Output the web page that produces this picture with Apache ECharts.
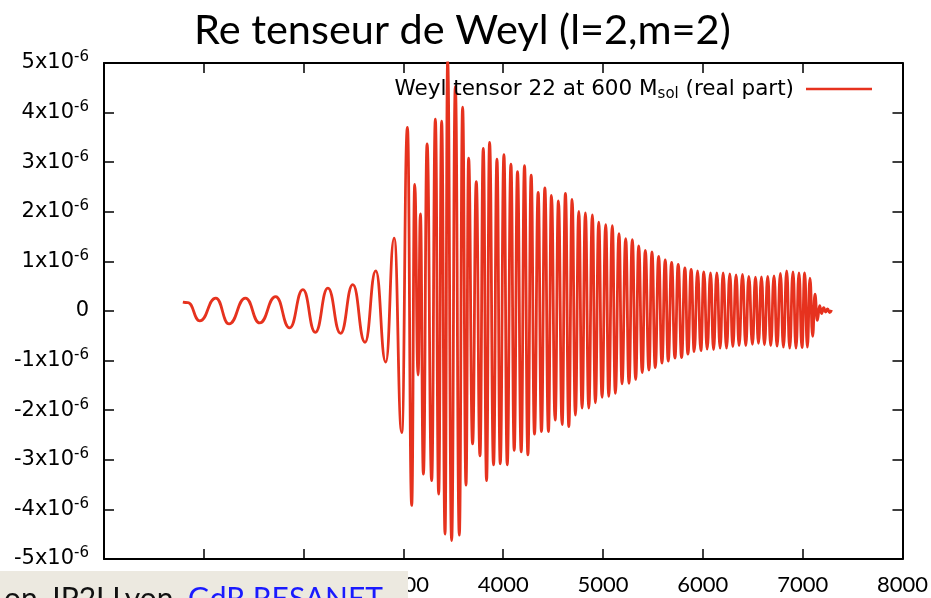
<!DOCTYPE html>
<html><head><meta charset="utf-8">
<script src="https://cdn.jsdelivr.net/npm/echarts@6/dist/echarts.min.js"></script>
<style>html,body{margin:0;padding:0;background:#fff;}#c{width:931px;height:598px;}</style>
</head><body><div id="c"></div>
<script>
const titleText = 'Re tenseur de Weyl (l=2,m=2)';
const seriesName = 'Weyl tensor 22 at 600 Msol (real part)';
const xTickLabels = ['0','1000','2000','3000','4000','5000','6000','7000','8000'];
const yTickMantissas = [-5,-4,-3,-2,-1,0,1,2,3,4,5];
const yUnit = 1e-6;
const footerText = 'on, IP2I Lyon, ';
const footerLink = 'GdR RESANET';

// time (x) of the start, extrema and end of the waveform
const timeValues = [790,840,960,1120,1253,1417,1560,1720,1860,1993,2117,2243,2370,2493,2615,2723,2823,2907,2983,3040,3083,3113,3147,3170,3200,3237,3283,3320,3353,3383,3417,3443,3483,3520,3560,3593,3627,3653,3693,3730,3767,3800,3833,3863,3903,3937,3970,4007,4040,4077,4110,4143,4180,4213,4247,4280,4313,4350,4383,4417,4453,4483,4520,4553,4590,4623,4657,4690,4723,4757,4790,4823,4857,4893,4923,4957,4990,5027,5057,5093,5123,5160,5190,5227,5260,5293,5327,5357,5393,5423,5460,5490,5523,5557,5590,5623,5653,5687,5720,5753,5787,5820,5850,5883,5913,5947,5980,6010,6043,6077,6107,6140,6173,6203,6237,6270,6300,6333,6363,6397,6430,6460,6497,6527,6557,6587,6617,6650,6680,6713,6743,6777,6807,6840,6870,6903,6933,6963,6993,7020,7047,7073,7100,7123,7147,7170,7190,7210,7230,7250,7270,7290];
// real part of Weyl tensor, in units of 1e-6
const weylRe = [0.18,0.17,-0.20,0.26,-0.26,0.26,-0.24,0.29,-0.34,0.43,-0.43,0.46,-0.45,0.53,-0.63,0.81,-1.03,1.47,-2.45,3.70,-3.92,2.55,-1.29,1.96,-3.29,3.37,-3.42,3.87,-3.69,3.83,-4.50,5.05,-4.63,4.53,-4.52,4.11,-3.51,3.08,-2.68,2.61,-2.92,3.28,-3.42,3.40,-3.10,3.06,-3.08,3.15,-3.10,2.96,-2.81,2.81,-2.84,2.93,-2.90,2.74,-2.48,2.39,-2.43,2.48,-2.43,2.33,-2.20,2.22,-2.29,2.37,-2.33,2.25,-2.10,2.01,-1.96,1.98,-1.96,1.94,-1.85,1.79,-1.74,1.74,-1.72,1.72,-1.66,1.56,-1.47,1.46,-1.46,1.44,-1.38,1.31,-1.24,1.22,-1.19,1.19,-1.14,1.10,-1.05,1.03,-1.01,0.98,-0.95,0.94,-0.94,0.87,-0.87,0.84,-0.82,0.81,-0.80,0.79,-0.77,0.77,-0.78,0.77,-0.75,0.77,-0.75,0.75,-0.72,0.73,-0.70,0.74,-0.70,0.70,-0.67,0.68,-0.65,0.69,-0.68,0.70,-0.70,0.71,-0.71,0.76,-0.73,0.81,-0.75,0.79,-0.75,0.77,-0.74,0.77,-0.73,0.66,-0.51,0.34,-0.19,0.11,-0.05,0.07,-0.02,0.04,-0.03,0.02];

function fitFont(text, family, target) {
  const ctx = document.createElement('canvas').getContext('2d');
  ctx.font = '100px ' + family;
  return 100 * target / ctx.measureText(text).width;
}
const titleFont = 'Lato, "Open Sans", sans-serif';
const titleSize = fitFont(titleText, titleFont, 537);

const lineColor = '#e6321e';
const chart = echarts.init(document.getElementById('c'), null, {renderer: 'canvas'});
const data = timeValues.map((t, i) => [t, weylRe[i] * yUnit]);

const yLabel = v => {
  const m = Math.round(v / yUnit);
  if (m === 0) return '{m|0}';
  return '{m|' + m + 'x10}{e|-6}';
};
const xLabel = v => xTickLabels[Math.round(v / 1000)] ?? '';

const axisLine = {show: true, onZero: false, lineStyle: {color: '#000', width: 2}};
const axisTick = {show: true, inside: true, length: 10, lineStyle: {color: '#000', width: 1.5}};

chart.setOption({
  animation: false,
  backgroundColor: '#fff',
  title: {
    text: titleText, left: 189, top: 5,
    textStyle: {fontFamily: titleFont, fontSize: titleSize, fontWeight: 'normal', color: '#000'}
  },
  legend: {
    right: 54, top: 73, align: 'right', icon: 'rect', itemWidth: 66, itemHeight: 2.6,
    data: [seriesName],
    formatter: () => '{t|Weyl tensor 22 at 600 M}{s|sol}{t| (real part)}{g|}',
    textStyle: {
      color: '#000',
      rich: {
        t: {fontFamily: 'DejaVu Sans', fontSize: 21.5, lineHeight: 26, color: '#000'},
        s: {fontFamily: 'DejaVu Sans', fontSize: 15, lineHeight: 14, verticalAlign: 'bottom', color: '#000'},
        g: {width: 7}
      }
    }
  },
  grid: {left: 104, right: 28, top: 63, bottom: 39, containLabel: false},
  xAxis: [{
    type: 'value', min: 0, max: 8000, interval: 1000, position: 'bottom',
    axisLine, axisTick, splitLine: {show: false},
    axisLabel: {formatter: xLabel, margin: 15, fontFamily: 'Lato, sans-serif', fontSize: 22, color: '#000', showMinLabel: true, showMaxLabel: true}
  }, {
    type: 'value', min: 0, max: 8000, interval: 1000, position: 'top',
    axisLine, axisTick, splitLine: {show: false}, axisLabel: {show: false}
  }],
  yAxis: [{
    type: 'value', min: -5 * yUnit, max: 5 * yUnit, interval: yUnit, position: 'left',
    axisLine, axisTick, splitLine: {show: false},
    axisLabel: {
      formatter: yLabel, margin: 15, color: '#000',
      rich: {
        m: {fontFamily: 'DejaVu Sans', fontSize: 21, lineHeight: 26, color: '#000'},
        e: {fontFamily: 'DejaVu Sans', fontSize: 15, lineHeight: 14, verticalAlign: 'top', color: '#000'}
      }
    }
  }, {
    type: 'value', min: -5 * yUnit, max: 5 * yUnit, interval: yUnit, position: 'right',
    axisLine, axisTick, splitLine: {show: false}, axisLabel: {show: false}
  }],
  series: [{
    name: seriesName, type: 'line', data,
    xAxisIndex: 0, yAxisIndex: 0,
    symbol: 'none', showSymbol: false,
    smooth: 0.5, smoothMonotone: 'x',
    lineStyle: {color: lineColor, width: 2.8},
    itemStyle: {color: lineColor},
    clip: true
  }],
  graphic: [{
    type: 'rect', left: 0, top: 571, z: 100,
    shape: {width: 408, height: 27},
    style: {fill: '#ece9e0'}
  }, {
    type: 'text', left: 4, top: 584, z: 101,
    style: {
      text: '{a|' + footerText + '}{b|' + footerLink + '}',
      rich: {
        a: {fontFamily: 'Lato, sans-serif', fontSize: 30, fill: '#111'},
        b: {fontFamily: 'Lato, sans-serif', fontSize: 30, fill: '#1a1aff'}
      }
    }
  }]
});
</script></body></html>
